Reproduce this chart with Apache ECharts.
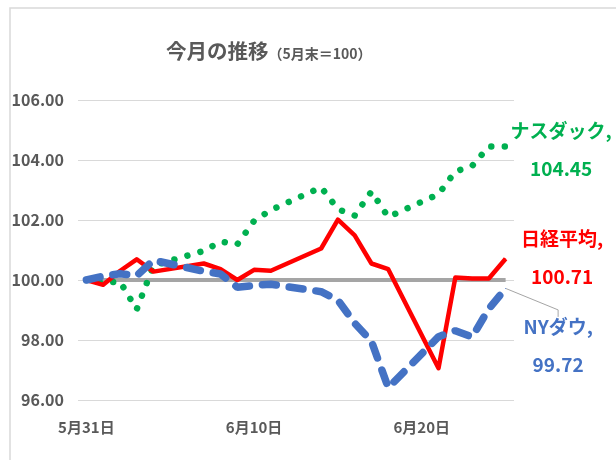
<!DOCTYPE html>
<html>
<head>
<meta charset="utf-8">
<script src="https://cdn.jsdelivr.net/npm/echarts@6/dist/echarts.min.js"></script>
<style>
  html, body { margin: 0; padding: 0; background: #fff; }
  #chart { width: 616px; height: 460px; }
</style>
</head>
<body>
<div id="chart"></div>
<script>
// dates on the axis (calendar days, weekends left empty)
const days = ['5月31日','6月1日','6月2日','6月3日','6月4日','6月5日','6月6日','6月7日','6月8日','6月9日',
  '6月10日','6月11日','6月12日','6月13日','6月14日','6月15日','6月16日','6月17日','6月18日','6月19日',
  '6月20日','6月21日','6月22日','6月23日','6月24日','6月25日'];

const nasdaq = [100, 99.91, 99.95, 99.02, 100.48, null, null, 100.97, 101.28, 101.19,
  101.97, 102.33, null, null, 103.09, 102.36, 102.15, 102.95, 102.10, null,
  null, 102.86, 103.62, 103.80, 104.45, 104.45];
const nikkei = [100, 99.84, 100.30, 100.69, 100.28, null, null, 100.55, 100.36, 100.00,
  100.34, 100.31, null, null, 101.05, 102.01, 101.49, 100.55, 100.36, null,
  null, 97.06, 100.08, 100.05, 100.05, 100.71];
const dow = [100, 100.13, 100.21, 100.14, 100.66, null, null, 100.29, 100.20, 99.76,
  99.82, 99.86, null, null, 99.61, 99.33, 98.56, 97.96, 96.41, null,
  null, 98.11, 98.31, 98.10, 99.04, 99.72];
const base = [100, 100, 100, 100, 100, null, null, 100, 100, 100,
  100, 100, null, null, 100, 100, 100, 100, 100, null,
  null, 100, 100, 100, 100, 100];

const yTicks = { min: 96, max: 106, step: 2 };

const grey = '#595959';
const jp = '"Noto Sans CJK JP", "Noto Sans", sans-serif';

// attach the end label to the last point only
function withEndLabel(values, label){
  return values.map((v, i) => i === values.length - 1
    ? { value: v, symbol: 'circle', symbolSize: 1, label: Object.assign({ show: true }, label) }
    : v);
}

function endText(name, color){
  return {
    formatter: (p) => `{t|${name},}\n{t|${p.value.toFixed(2)}}`,
    rich: { t: { color, fontFamily: jp, fontWeight: 'bold', fontSize: 19, lineHeight: 38, width: 84, align: 'center' } }
  };
}

const chart = echarts.init(document.getElementById('chart'), null, { renderer: 'canvas' });

chart.setOption({
  backgroundColor: '#fff',
  animation: false,
  title: {
    text: '{a|今月の推移}{b|（5月末＝100）}',
    left: 161, top: 29,
    textStyle: {
      rich: {
        a: { fontFamily: jp, fontWeight: 'bold', fontSize: 20.5, color: grey, verticalAlign: 'bottom', lineHeight: 27 },
        b: { fontFamily: jp, fontWeight: 'bold', fontSize: 14, color: grey, verticalAlign: 'bottom', lineHeight: 24 }
      }
    }
  },
  graphic: [{
    type: 'rect', silent: true, z: -1,
    shape: { x: 10, y: 8, width: 700, height: 520 },
    style: { fill: 'none', stroke: '#d9d9d9', lineWidth: 1.5 }
  }],
  grid: { left: 78, right: 102, top: 100, bottom: 60 },
  xAxis: {
    type: 'category', data: days, boundaryGap: true,
    axisLine: { show: false }, axisTick: { show: false },
    axisLabel: { interval: 9, margin: 20, color: grey, fontFamily: jp, fontWeight: 'bold', fontSize: 15 }
  },
  yAxis: {
    type: 'value', min: yTicks.min, max: yTicks.max, interval: yTicks.step,
    axisLine: { show: false }, axisTick: { show: false },
    axisLabel: { margin: 14, color: grey, fontFamily: jp, fontWeight: 'bold', fontSize: 16, formatter: (v) => v.toFixed(2) },
    splitLine: { lineStyle: { color: '#d9d9d9', width: 1 } }
  },
  series: [
    {
      name: '5月末', type: 'line', data: base, connectNulls: true, silent: true,
      symbol: 'none', z: 1,
      lineStyle: { color: '#a5a5a5', width: 4 }
    },
    {
      name: 'ナスダック', type: 'line', connectNulls: true, silent: true,
      data: withEndLabel(nasdaq, Object.assign({ position: [56, 4], align: 'center', verticalAlign: 'middle' }, endText('ナスダック', '#00b050'))),
      symbol: 'none', z: 2,
      lineStyle: { color: '#00b050', width: 6.5, type: [0.01, 13.5], cap: 'round' },
      itemStyle: { color: '#00b050' }
    },
    {
      name: '日経平均', type: 'line', connectNulls: true, silent: true,
      data: withEndLabel(nikkei, Object.assign({ position: [57, 0], align: 'center', verticalAlign: 'middle' }, endText('日経平均', '#ff0000'))),
      symbol: 'none', z: 3,
      lineStyle: { color: '#ff0000', width: 4.5, join: 'round' },
      itemStyle: { color: '#ff0000' }
    },
    {
      name: 'NYダウ', type: 'line', connectNulls: true, silent: true,
      data: withEndLabel(dow, Object.assign({ position: 'right', distance: 10, align: 'left', verticalAlign: 'middle' }, endText('NYダウ', '#4472c4'))),
      symbol: 'none', z: 4,
      labelLayout: { dy: 57 },
      labelLine: { show: true, length2: 7, lineStyle: { color: '#a5a5a5', width: 1 } },
      lineStyle: { color: '#4472c4', width: 7.5, type: [14, 13], cap: 'round' },
      itemStyle: { color: '#4472c4' }
    }
  ]
});
</script>
</body>
</html>
